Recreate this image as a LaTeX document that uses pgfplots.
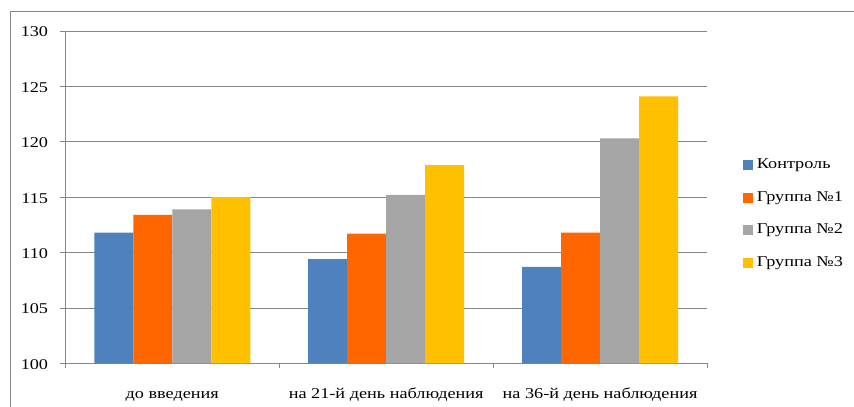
\documentclass[border=0pt]{standalone}
\usepackage{fontspec}
\setmainfont{Liberation Serif}[FakeStretch=1.22]
\usepackage{pgfplots}
\pgfplotsset{compat=1.18}
\definecolor{cA}{HTML}{4F81BD}
\definecolor{cB}{HTML}{FF6600}
\definecolor{cC}{HTML}{A5A5A5}
\definecolor{cD}{HTML}{FFC000}
\definecolor{gridc}{HTML}{868686}
\begin{document}
\begin{tikzpicture}[font=\fontsize{15}{17}\selectfont]
\useasboundingbox (0bp,0bp) rectangle (854bp,407bp);
\draw[gridc, line width=0.75bp] (10bp,0bp) -- (10bp,396bp) -- (854bp,396bp);
\begin{axis}[
  at={(65.3bp,43.7bp)}, anchor=south west, scale only axis,
  width=641.7bp, height=332.3bp,
  ymin=100, ymax=130, ytick={100,105,...,130},
  xmin=-0.5, xmax=2.5,
  ybar=0pt, bar width=39bp,
  axis x line*=bottom, axis y line*=left,
  axis line style={gridc, line width=0.75bp},
  ymajorgrids, grid style={gridc, line width=0.75bp},
  tick style={gridc, line width=0.75bp},
  major tick length=5bp, tick align=outside,
  xtick={-0.5,0.5,1.5,2.5}, xticklabels={},
  extra x ticks={0,1,2},
  extra x tick labels={до введения, на 21-й день наблюдения, на 36-й день наблюдения},
  extra x tick style={major tick length=0pt, grid=none,
     xticklabel style={anchor=north, text height=10bp, text depth=3bp, inner sep=0pt, yshift=-25bp}},
  yticklabel style={anchor=east, inner sep=0pt, xshift=-12bp, yshift=-1bp},
  /pgf/number format/assume math mode=true,
  ticklabel style={font=\fontsize{15}{17}\selectfont},
  legend style={at={(1.0556,0.449)}, anchor=west, draw=none, fill=none,
     inner sep=0pt, row sep=19.7bp, column sep=4bp,
     font=\fontsize{15}{17}\selectfont,
     nodes={inner sep=0pt, text height=10bp, text depth=3bp}},
  legend cell align=left,
  legend image code/.code={\fill[#1] (0bp,-5bp) rectangle (10bp,5bp);},
]
\addplot[fill=cA, draw=none] coordinates {(0,111.8) (1,109.4) (2,108.7)};
\addplot[fill=cB, draw=none] coordinates {(0,113.4) (1,111.7) (2,111.8)};
\addplot[fill=cC, draw=none] coordinates {(0,113.9) (1,115.2) (2,120.3)};
\addplot[fill=cD, draw=none] coordinates {(0,115.0) (1,117.9) (2,124.1)};
\legend{Контроль, Группа №1, Группа №2, Группа №3}
\end{axis}
\end{tikzpicture}
\end{document}
